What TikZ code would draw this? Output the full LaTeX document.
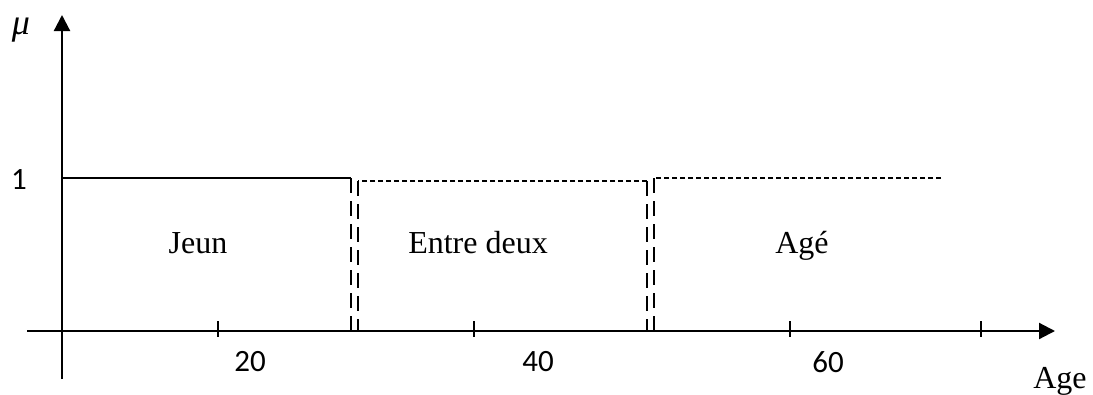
\documentclass[tikz,border=0pt]{standalone}
\usepackage{fontspec}
\setmainfont{Liberation Serif}
\newfontfamily\numfont{Carlito}
\usetikzlibrary{arrows.meta}
\begin{document}
\begin{tikzpicture}[x=1pt,y=-1pt,
  axis/.style={line width=2.2pt,-{Triangle[length=16pt,width=16pt]}},
  tickmark/.style={line width=1.8pt},
  solidlvl/.style={line width=2pt},
  vdash/.style={line width=2pt,dash pattern=on 15pt off 8pt},
  hdash/.style={line width=2pt,dash pattern=on 5.5pt off 2.5pt},
  numlbl/.style={font=\numfont\fontsize{31}{33}\selectfont,inner sep=0pt},
  txtlbl/.style={font=\fontsize{32}{34}\selectfont,inner sep=0pt,anchor=base}]
\useasboundingbox (0,0) rectangle (1093,394);
% axes
\draw[axis] (62,379) -- (62,15);
\draw[axis] (27,331) -- (1055,331);
% ticks
\foreach \tx in {218,474,790,981}
  \draw[tickmark] (\tx,321) -- (\tx,337);
% number labels
\node[numlbl] (n20) at (250,362) {20};
\node[numlbl] (n40) at (538,362) {40};
\node[numlbl] (n60) at (828,362) {60};
\node[numlbl] (one) at (19,180) {1};
\node[font=\itshape\fontsize{36}{38}\selectfont,inner sep=0pt] (mu) at (21,30) {μ};
% membership sets
\draw[solidlvl] (62,178) -- (351,178);
\draw[vdash] (351,178) -- (351,331);
\draw[hdash] (647,181) -- (358,181);
\draw[vdash] (358,181) -- (358,331);
\draw[vdash] (647,181) -- (647,331);
\draw[hdash] (941,178) -- (654,178);
\draw[vdash] (654,178) -- (654,331);
% set labels
\node[txtlbl] (jeun) at (198,253) {Jeun};
\node[txtlbl] (entre) at (478,253) {Entre deux};
\node[txtlbl] (age1) at (802,253) {Agé};
\node[txtlbl] (age) at (1060,388) {Age};
\end{tikzpicture}
\end{document}
